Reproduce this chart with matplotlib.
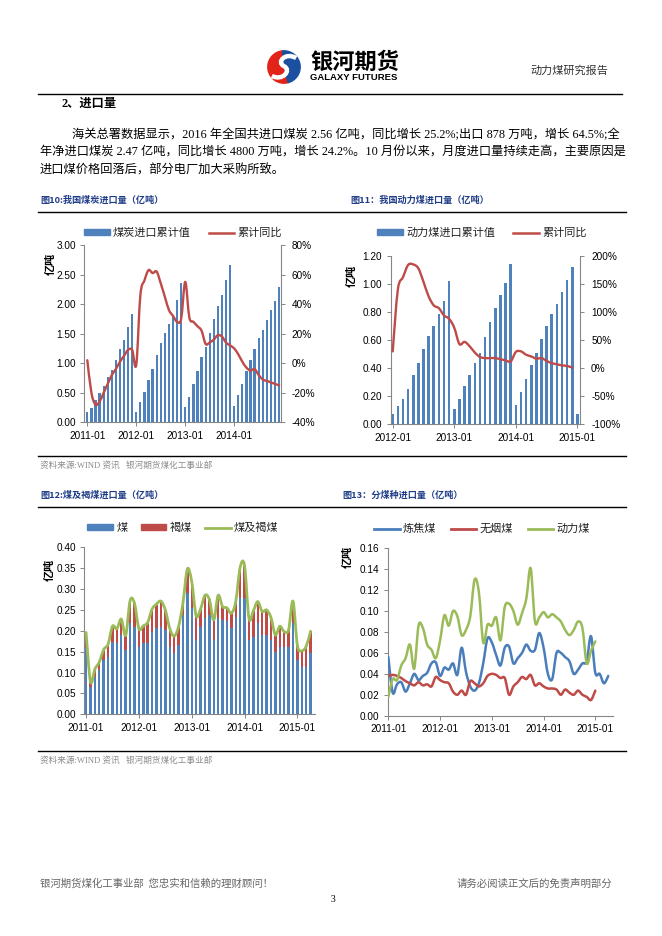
import matplotlib
matplotlib.use('Agg')
import matplotlib.pyplot as plt
import numpy as np
from matplotlib.path import Path
from matplotlib.patches import PathPatch, Patch, Wedge
from matplotlib.lines import Line2D
from matplotlib.font_manager import FontProperties

W, H = 662, 936
CJK = ['Noto Sans CJK SC', 'DejaVu Sans']
BODY = ['Liberation Serif', 'Noto Sans CJK SC', 'DejaVu Sans']
plt.rcParams['font.family'] = ['Liberation Sans', 'Noto Sans CJK SC', 'DejaVu Sans']

BLUE = '#4F81BD'
RED = '#BE4B48'
GREEN = '#9BBB59'
AXC = '#868686'

# 图10 煤炭进口累计值 (亿吨) 2011-01 .. 2014-12, 累计同比
coal_cum = [0.17, 0.24, 0.38, 0.50, 0.62, 0.76, 0.88, 1.05, 1.24, 1.40, 1.62, 1.83,
            0.17, 0.34, 0.51, 0.71, 0.91, 1.14, 1.34, 1.51, 1.66, 1.79, 2.07, 2.35,
            0.26, 0.43, 0.64, 0.87, 1.10, 1.28, 1.51, 1.74, 1.96, 2.16, 2.40, 2.67,
            0.28, 0.46, 0.64, 0.86, 1.05, 1.24, 1.42, 1.56, 1.73, 1.90, 2.06, 2.29]
coal_yoy = [0.02, -0.20, -0.28, -0.26, -0.20, -0.14, -0.08, -0.04, 0.01, 0.05, 0.09, 0.09,
            -0.01, 0.46, 0.56, 0.63, 0.61, 0.62, 0.54, 0.45, 0.36, 0.32, 0.28, 0.30,
            0.55, 0.31, 0.28, 0.25, 0.22, 0.13, 0.14, 0.16, 0.19, 0.18, 0.14, 0.12,
            0.10, 0.06, 0.01, -0.03, -0.05, -0.04, -0.08, -0.11, -0.12, -0.13, -0.14, -0.15]

# 图11 动力煤进口累计值 2012-01 .. 2015-01
steam_cum = [0.07, 0.13, 0.18, 0.25, 0.35, 0.44, 0.54, 0.63, 0.70, 0.79, 0.88, 1.02,
             0.11, 0.18, 0.27, 0.35, 0.44, 0.51, 0.62, 0.73, 0.83, 0.92, 1.01, 1.14,
             0.14, 0.23, 0.32, 0.42, 0.51, 0.61, 0.70, 0.79, 0.86, 0.94, 1.03, 1.12,
             0.07]
steam_yoy = [0.30, 1.40, 1.62, 1.84, 1.85, 1.78, 1.54, 1.28, 1.12, 1.07, 0.94, 0.88,
             0.72, 0.43, 0.47, 0.39, 0.28, 0.20, 0.18, 0.18, 0.18, 0.16, 0.14, 0.12,
             0.29, 0.30, 0.24, 0.21, 0.17, 0.18, 0.13, 0.09, 0.07, 0.05, 0.04, 0.01]

# 图12 煤 / 褐煤 月度进口 2011-01 .. 2015-04
coal_m = [0.158, 0.066, 0.090, 0.106, 0.130, 0.138, 0.174, 0.170, 0.190, 0.154, 0.218, 0.210,
          0.162, 0.170, 0.170, 0.198, 0.206, 0.210, 0.202, 0.162, 0.146, 0.166, 0.238, 0.290,
          0.254, 0.178, 0.210, 0.230, 0.238, 0.178, 0.230, 0.226, 0.224, 0.206, 0.234, 0.278,
          0.278, 0.178, 0.186, 0.218, 0.190, 0.190, 0.178, 0.150, 0.162, 0.162, 0.162, 0.218,
          0.130, 0.113, 0.114, 0.146]
lignite_m = [0.038, 0.012, 0.018, 0.019, 0.025, 0.030, 0.037, 0.035, 0.038, 0.035, 0.054, 0.056,
             0.043, 0.042, 0.050, 0.054, 0.058, 0.061, 0.048, 0.044, 0.041, 0.044, 0.028, 0.058,
             0.064, 0.058, 0.042, 0.055, 0.037, 0.048, 0.055, 0.032, 0.031, 0.036, 0.036, 0.074,
             0.078, 0.052, 0.062, 0.052, 0.056, 0.060, 0.054, 0.040, 0.049, 0.036, 0.040, 0.053,
             0.035, 0.039, 0.049, 0.053]

# 图13 分煤种 2011-01 ..
coking = [0.056, 0.022, 0.030, 0.032, 0.023, 0.031, 0.040, 0.034, 0.038, 0.041, 0.050, 0.051,
          0.038, 0.046, 0.044, 0.050, 0.039, 0.065, 0.042, 0.028, 0.024, 0.031, 0.050, 0.074,
          0.070, 0.058, 0.048, 0.065, 0.066, 0.050, 0.055, 0.060, 0.068, 0.062, 0.063, 0.079,
          0.065, 0.040, 0.035, 0.060, 0.060, 0.056, 0.052, 0.040, 0.044, 0.050, 0.052, 0.076,
          0.041, 0.040, 0.031, 0.038]
anthracite = [0.038, 0.039, 0.038, 0.036, 0.033, 0.031, 0.029, 0.032, 0.029, 0.030, 0.028, 0.037,
              0.034, 0.032, 0.031, 0.023, 0.020, 0.024, 0.020, 0.033, 0.031, 0.028, 0.031, 0.038,
              0.040, 0.039, 0.036, 0.036, 0.020, 0.028, 0.032, 0.037, 0.035, 0.039, 0.029, 0.031,
              0.028, 0.026, 0.026, 0.025, 0.020, 0.025, 0.022, 0.020, 0.024, 0.020, 0.018, 0.015,
              0.024]
steam_m = [0.018, 0.035, 0.034, 0.048, 0.055, 0.068, 0.045, 0.086, 0.084, 0.068, 0.063, 0.055,
           0.072, 0.096, 0.086, 0.100, 0.095, 0.077, 0.082, 0.095, 0.130, 0.118, 0.070, 0.087,
           0.086, 0.094, 0.072, 0.104, 0.107, 0.100, 0.087, 0.098, 0.112, 0.141, 0.090, 0.094,
           0.099, 0.094, 0.097, 0.094, 0.090, 0.082, 0.077, 0.082, 0.090, 0.084, 0.050, 0.062,
           0.071]

ticks_a = ['2011-01', '2012-01', '2013-01', '2014-01']
ticks_b = ['2012-01', '2013-01', '2014-01', '2015-01']
ticks_c = ['2011-01', '2012-01', '2013-01', '2014-01', '2015-01']


def fy(py):
    return 1 - py / H


def make_ax(l, t, r, b):
    return fig.add_axes([l / W, 1 - b / H, (r - l) / W, (b - t) / H])


def smooth_path(x, y):
    # Excel-like smoothed line (Catmull-Rom as cubic beziers)
    pts = np.column_stack([x, y]).astype(float)
    n = len(pts)
    verts = [pts[0]]
    codes = [Path.MOVETO]
    for k in range(n - 1):
        p0 = pts[k - 1] if k > 0 else pts[k]
        p1, p2 = pts[k], pts[k + 1]
        p3 = pts[k + 2] if k + 2 < n else pts[k + 1]
        verts += [p1 + (p2 - p0) / 6, p2 - (p3 - p1) / 6, p2]
        codes += [Path.CURVE4] * 3
    return Path(verts, codes)


def smooth(ax, x, y, color, lw):
    ax.add_patch(PathPatch(smooth_path(x, y), fill=False, ec=color, lw=lw,
                           capstyle='round', joinstyle='round', zorder=3))


def style(ax, show):
    for s in ax.spines:
        ax.spines[s].set_visible(s in show)
        ax.spines[s].set_color(AXC)
        ax.spines[s].set_linewidth(0.8)
    ax.tick_params(labelsize=7.2, length=3, width=0.7, color=AXC, pad=3)
    ax.set_facecolor('none')


def hline(y, x0=38, x1=626, lw=1.0):
    fig.add_artist(Line2D([x0 / W, x1 / W], [fy(y), fy(y)], transform=fig.transFigure,
                          color='black', lw=lw))


def ftext(x, y, s, **kw):
    kw.setdefault('va', 'center')
    fig.text(x / W, fy(y), s, **kw)


def legend(ax, handles, labels, cx, cy, spacing=1.6):
    ax.legend(handles, labels, loc='center', bbox_to_anchor=(cx / W, fy(cy)),
              bbox_transform=fig.transFigure, ncol=len(handles), frameon=False,
              prop=FontProperties(family=CJK, size=8), handlelength=2.3,
              handleheight=0.45, handletextpad=0.3, columnspacing=spacing,
              borderpad=0, labelcolor='#222222')


fig = plt.figure(figsize=(W / 100, H / 100), dpi=100)

# ---- header ----
lg = fig.add_axes([266 / W, fy(84), 36 / W, 34 / H])
lg.set_xlim(-1.05, 1.05)
lg.set_ylim(-1.05, 1.05)
lg.set_aspect('equal')
lg.axis('off')
lg.add_patch(Wedge((0, 0), 1.0, 95, 285, color='#E2231A'))
lg.add_patch(Wedge((0, 0), 1.0, -75, 95, color='#1B4FA0'))
lg.add_patch(PathPatch(Path([(-0.75, -0.55), (-0.1, -0.9), (0.5, -0.2), (0.0, 0.05),
                             (-0.5, 0.3), (0.1, 0.95), (0.75, 0.55)],
                            [Path.MOVETO] + [Path.CURVE4] * 6),
                       fill=False, ec='white', lw=3.2))

ftext(310, 62, '银河期货', fontsize=16, fontweight='bold', family=CJK)
ftext(310, 77, 'GALAXY FUTURES', fontsize=6.8, fontweight='bold', family=['Liberation Sans'])
ftext(530, 71, '动力煤研究报告', fontsize=8, family=CJK, color='#333333')
hline(94, 38, 622)

ftext(62, 104, '2、进口量', fontsize=8.8, fontweight='bold', family=BODY)
ftext(72, 135, '海关总署数据显示，2016 年全国共进口煤炭 2.56 亿吨，同比增长 25.2%;出口 878 万吨，增长 64.5%;全',
      fontsize=8.8, family=BODY)
ftext(40, 153, '年净进口煤炭 2.47 亿吨，同比增长 4800 万吨，增长 24.2%。10 月份以来，月度进口量持续走高，主要原因是',
      fontsize=8.8, family=BODY)
ftext(40, 170, '进口煤价格回落后，部分电厂加大采购所致。', fontsize=8.8, family=BODY)

TCOL = '#1F3C88'
ftext(40, 200, '图10:我国煤炭进口量（亿吨）', fontsize=6.6, fontweight='bold', family=CJK, color=TCOL)
ftext(350, 200, '图11：我国动力煤进口量（亿吨）', fontsize=6.6, fontweight='bold', family=CJK, color=TCOL)
ftext(40, 495, '图12:煤及褐煤进口量（亿吨）', fontsize=6.6, fontweight='bold', family=CJK, color=TCOL)
ftext(342, 495, '图13：分煤种进口量（亿吨）', fontsize=6.6, fontweight='bold', family=CJK, color=TCOL)
for y in (212, 456, 507, 751):
    hline(y)
src = '资料来源:WIND 资讯   银河期货煤化工事业部'
ftext(40, 466, src, fontsize=6.2, family=BODY, color='#8C8C8C')
ftext(40, 761, src, fontsize=6.2, family=BODY, color='#8C8C8C')

# ---- 图10 ----
ax = make_ax(84.3, 245, 280.7, 422.3)
x = np.arange(len(coal_cum))
ax.bar(x, coal_cum, width=0.55, color=BLUE, zorder=2)
ax.set_xlim(-0.74, 47.4)
ax.set_ylim(0, 3)
ax.set_yticks(np.arange(0, 3.01, 0.5))
ax.set_yticklabels(['%.2f' % v for v in np.arange(0, 3.01, 0.5)])
ax.set_xticks([0, 12, 24, 36])
ax.set_xticklabels(ticks_a)
style(ax, ('left', 'bottom'))
ax2 = ax.twinx()
ax2.set_xlim(-0.74, 47.4)
ax2.set_ylim(-0.4, 0.8)
yt = [-0.4, -0.2, 0, 0.2, 0.4, 0.6, 0.8]
ax2.set_yticks(yt)
ax2.set_yticklabels(['%d%%' % round(v * 100) for v in yt])
style(ax2, ('right',))
ax2.tick_params(axis='y', pad=5)
smooth(ax2, x, coal_yoy, RED, 1.7)
legend(ax2, [Patch(color=BLUE), Line2D([], [], color=RED, lw=1.8)], ['煤炭进口累计值', '累计同比'], 183, 233)
ftext(50, 264, '亿吨', fontsize=8, fontweight='bold', family=CJK, rotation=90, ha='center')

# ---- 图11 ----
ax = make_ax(390.7, 256, 580, 424.3)
x = np.arange(len(steam_cum))
ax.bar(x, steam_cum, width=0.5, color=BLUE, zorder=2)
ax.set_xlim(-0.39, 36.5)
ax.set_ylim(0, 1.2)
yv = np.arange(0, 1.21, 0.2)
ax.set_yticks(yv)
ax.set_yticklabels(['%.2f' % v for v in yv])
ax.set_xticks([0, 12, 24, 36])
ax.set_xticklabels(ticks_b)
style(ax, ('left', 'bottom'))
ax2 = ax.twinx()
ax2.set_xlim(-0.39, 36.5)
ax2.set_ylim(-1, 2)
yt = [-1, -0.5, 0, 0.5, 1, 1.5, 2]
ax2.set_yticks(yt)
ax2.set_yticklabels(['%d%%' % round(v * 100) for v in yt])
style(ax2, ('right',))
ax2.tick_params(axis='y', pad=5)
smooth(ax2, np.arange(len(steam_yoy)), steam_yoy, RED, 1.7)
legend(ax2, [Patch(color=BLUE), Line2D([], [], color=RED, lw=1.8)], ['动力煤进口累计值', '累计同比'], 482, 233)
ftext(351, 276, '亿吨', fontsize=8, fontweight='bold', family=CJK, rotation=90, ha='center')

# ---- 图12 ----
ax = make_ax(84.3, 547.3, 315, 714.3)
x = np.arange(len(coal_m))
ax.bar(x, coal_m, width=0.55, color=BLUE, zorder=2)
ax.bar(x, lignite_m, width=0.55, bottom=coal_m, color=RED, zorder=2)
total = np.add(coal_m, lignite_m)
smooth(ax, x, total, GREEN, 2.0)
ax.set_xlim(-0.4, 52)
ax.set_ylim(0, 0.4)
yv = np.arange(0, 0.401, 0.05)
ax.set_yticks(yv)
ax.set_yticklabels(['%.2f' % v for v in yv])
ax.set_xticks([0, 12, 24, 36, 48])
ax.set_xticklabels(ticks_c)
style(ax, ('left', 'bottom'))
legend(ax, [Patch(color=BLUE), Patch(color=RED), Line2D([], [], color=GREEN, lw=2)],
       ['煤', '褐煤', '煤及褐煤'], 183, 528, spacing=1.2)
ftext(49, 570, '亿吨', fontsize=8, fontweight='bold', family=CJK, rotation=90, ha='center')

# ---- 图13 ----
ax = make_ax(387.7, 548.3, 613, 715.7)
smooth(ax, np.arange(len(coking)), coking, '#4A7EBB', 1.8)
smooth(ax, np.arange(len(anthracite)), anthracite, RED, 1.8)
smooth(ax, np.arange(len(steam_m)), steam_m, GREEN, 1.8)
ax.set_xlim(-0.15, 52.1)
ax.set_ylim(0, 0.16)
yv = np.arange(0, 0.161, 0.02)
ax.set_yticks(yv)
ax.set_yticklabels(['%.2f' % v for v in yv])
ax.set_xticks([0, 12, 24, 36, 48])
ax.set_xticklabels(ticks_c)
style(ax, ('left', 'bottom'))
legend(ax, [Line2D([], [], color='#4A7EBB', lw=2), Line2D([], [], color=RED, lw=2),
            Line2D([], [], color=GREEN, lw=2)], ['炼焦煤', '无烟煤', '动力煤'], 482, 529, spacing=1.3)
ftext(347, 557, '亿吨', fontsize=8, fontweight='bold', family=CJK, rotation=90, ha='center')

# ---- footer ----
ftext(40, 884, '银河期货煤化工事业部  您忠实和信赖的理财顾问！', fontsize=7.5, family=CJK, color='#666666')
ftext(612, 884, '请务必阅读正文后的免责声明部分', fontsize=7.5, family=CJK, color='#666666', ha='right')
ftext(333, 899, '3', fontsize=7, family=BODY, ha='center')

fig.savefig('out.png', dpi=100)
